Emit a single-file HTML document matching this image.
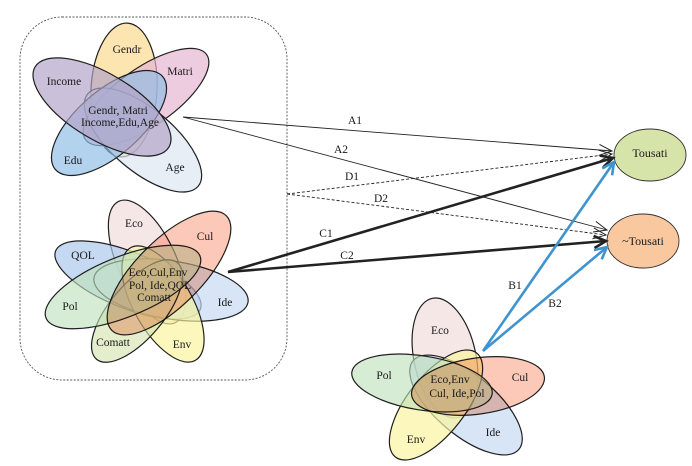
<!DOCTYPE html>
<html>
<head>
<meta charset="utf-8">
<style>
html,body{margin:0;padding:0;background:#fff;width:692px;height:466px;overflow:hidden}
svg{display:block}
text{font-family:"Liberation Serif",serif;font-size:11.5px;fill:#1a1a1a;text-anchor:middle;dominant-baseline:central}
.e{stroke:#1f1f1f;stroke-width:1.2;fill-opacity:.68}
.p{fill-opacity:.62}
.m{fill-opacity:1;mix-blend-mode:multiply}
</style>
</head>
<body>
<svg width="692" height="466" viewBox="0 0 692 466" xmlns="http://www.w3.org/2000/svg">
<defs>
<marker id="th" markerUnits="userSpaceOnUse" markerWidth="16" markerHeight="14" refX="14" refY="7" orient="auto"><path d="M1 1.5L14 7L1 12.5" fill="none" stroke="#222" stroke-width="1"/></marker>
<marker id="bk" markerUnits="userSpaceOnUse" markerWidth="18" markerHeight="16" refX="15" refY="8" orient="auto"><path d="M3 2L15 8L3 14" fill="none" stroke="#222" stroke-width="2.6"/></marker>
<marker id="bl" markerUnits="userSpaceOnUse" markerWidth="18" markerHeight="16" refX="15" refY="8" orient="auto"><path d="M3 2L15 8L3 14" fill="none" stroke="#3f94cf" stroke-width="2.6"/></marker>
</defs>

<rect width="692" height="466" fill="#fff"/>
<rect x="20" y="17" width="267" height="363" rx="42" ry="42" fill="#fff" stroke="#555" stroke-width=".9" stroke-dasharray="2 1.5"/>

<!-- top venn -->
<ellipse class="e" cx="124" cy="90" rx="33" ry="67" fill="#fbd88c" transform="rotate(3 124 90)"/>
<ellipse class="e" cx="146" cy="97" rx="74" ry="29" fill="#e6b4d2" transform="rotate(-35 146 97)"/>
<ellipse class="e" cx="143" cy="140" rx="72" ry="31" fill="#dce6f2" transform="rotate(40 143 140)"/>
<ellipse class="e" cx="109" cy="123" rx="71" ry="32" fill="#8fbce6" transform="rotate(-41 109 123)"/>
<ellipse class="e" cx="102" cy="107" rx="78" ry="33" fill="#b3a2c7" transform="rotate(31 102 107)"/>

<!-- left venn -->
<ellipse class="e" cx="147" cy="262" rx="29" ry="67" fill="#f2dcdb" transform="rotate(-25 147 262)"/>
<ellipse class="e" cx="128" cy="280" rx="78" ry="28" fill="#a9c9ec" transform="rotate(22 128 280)"/>
<ellipse class="e" cx="171" cy="290" rx="78" ry="29" fill="#c5d9f1" transform="rotate(9 171 290)"/>
<ellipse class="e" cx="163" cy="304" rx="65" ry="29" fill="#fbf59d" transform="rotate(60 163 304)"/>
<ellipse class="e p" cx="137" cy="311" rx="63" ry="27" fill="#d3e2ac" transform="rotate(-50 137 311)"/>
<ellipse class="e p" cx="123" cy="287" rx="83" ry="30" fill="#bfe0ba" transform="rotate(-22 123 287)"/>
<ellipse class="e m" cx="169" cy="273" rx="81" ry="33" fill="#fcc9b8" transform="rotate(-45 169 273)"/>

<!-- bottom venn -->
<ellipse class="e" cx="445" cy="358" rx="31" ry="61" fill="#f2dcdb" transform="rotate(-12 445 358)"/>
<ellipse class="e" cx="466" cy="405" rx="69" ry="30" fill="#c5d9f1" transform="rotate(40 466 405)"/>
<ellipse class="e" cx="436" cy="405" rx="66" ry="29" fill="#fbf59d" transform="rotate(-52 436 405)"/>
<ellipse class="e p" cx="422" cy="383" rx="71" ry="27" fill="#bfe0ba" transform="rotate(9 422 383)"/>
<ellipse class="e m" cx="478" cy="386" rx="67" ry="28" fill="#fcc9b8" transform="rotate(-8 478 386)"/>

<!-- targets -->
<ellipse cx="650" cy="155" rx="36" ry="26" fill="#d7e4a9" stroke="#333" stroke-width=".9"/>
<ellipse cx="643" cy="241" rx="36" ry="27" fill="#fac89e" stroke="#333" stroke-width=".9"/>

<!-- connectors -->
<line x1="183" y1="117" x2="612" y2="151" stroke="#222" stroke-width=".9" marker-end="url(#th)"/>
<line x1="183" y1="117" x2="607" y2="230" stroke="#222" stroke-width=".9" marker-end="url(#th)"/>
<line x1="287" y1="194" x2="612" y2="154" stroke="#222" stroke-width=".9" stroke-dasharray="3 2" marker-end="url(#th)"/>
<line x1="287" y1="194" x2="606" y2="235" stroke="#222" stroke-width=".9" stroke-dasharray="3 2" marker-end="url(#th)"/>
<line x1="228" y1="272" x2="613" y2="158" stroke="#222" stroke-width="2.6" marker-end="url(#bk)"/>
<line x1="228" y1="272" x2="606" y2="241" stroke="#222" stroke-width="2.6" marker-end="url(#bk)"/>
<line x1="483" y1="351" x2="614" y2="162" stroke="#3f94cf" stroke-width="2.6" marker-end="url(#bl)"/>
<line x1="483" y1="351" x2="607" y2="247" stroke="#3f94cf" stroke-width="2.6" marker-end="url(#bl)"/>

<!-- labels -->
<text x="127" y="50">Gendr</text>
<text x="180" y="72">Matri</text>
<text x="64" y="82">Income</text>
<text x="73" y="161">Edu</text>
<text x="175" y="168">Age</text>
<text x="118" y="111">Gendr, Matri</text>
<text x="120" y="123">Income,Edu,Age</text>

<text x="134" y="224">Eco</text>
<text x="205" y="237">Cul</text>
<text x="83" y="256">QOL</text>
<text x="70" y="307">Pol</text>
<text x="225" y="303">Ide</text>
<text x="182" y="345">Env</text>
<text x="113" y="343">Comatt</text>
<text x="158" y="273">Eco,Cul,Env</text>
<text x="160" y="286">Pol, Ide,QOL</text>
<text x="154" y="298">Comatt</text>

<text x="440" y="331">Eco</text>
<text x="520" y="378">Cul</text>
<text x="384" y="376">Pol</text>
<text x="493" y="433">Ide</text>
<text x="416" y="440">Env</text>
<text x="450" y="380">Eco,Env</text>
<text x="457" y="394">Cul, Ide,Pol</text>

<text x="650" y="153" style="font-size:12px">Tousati</text>
<text x="643" y="241" style="font-size:12px">~Tousati</text>

<text x="355" y="121">A1</text>
<text x="341" y="150">A2</text>
<text x="352" y="177">D1</text>
<text x="381" y="199">D2</text>
<text x="326" y="234">C1</text>
<text x="347" y="256">C2</text>
<text x="515" y="286">B1</text>
<text x="555" y="304">B2</text>
</svg>
</body>
</html>
